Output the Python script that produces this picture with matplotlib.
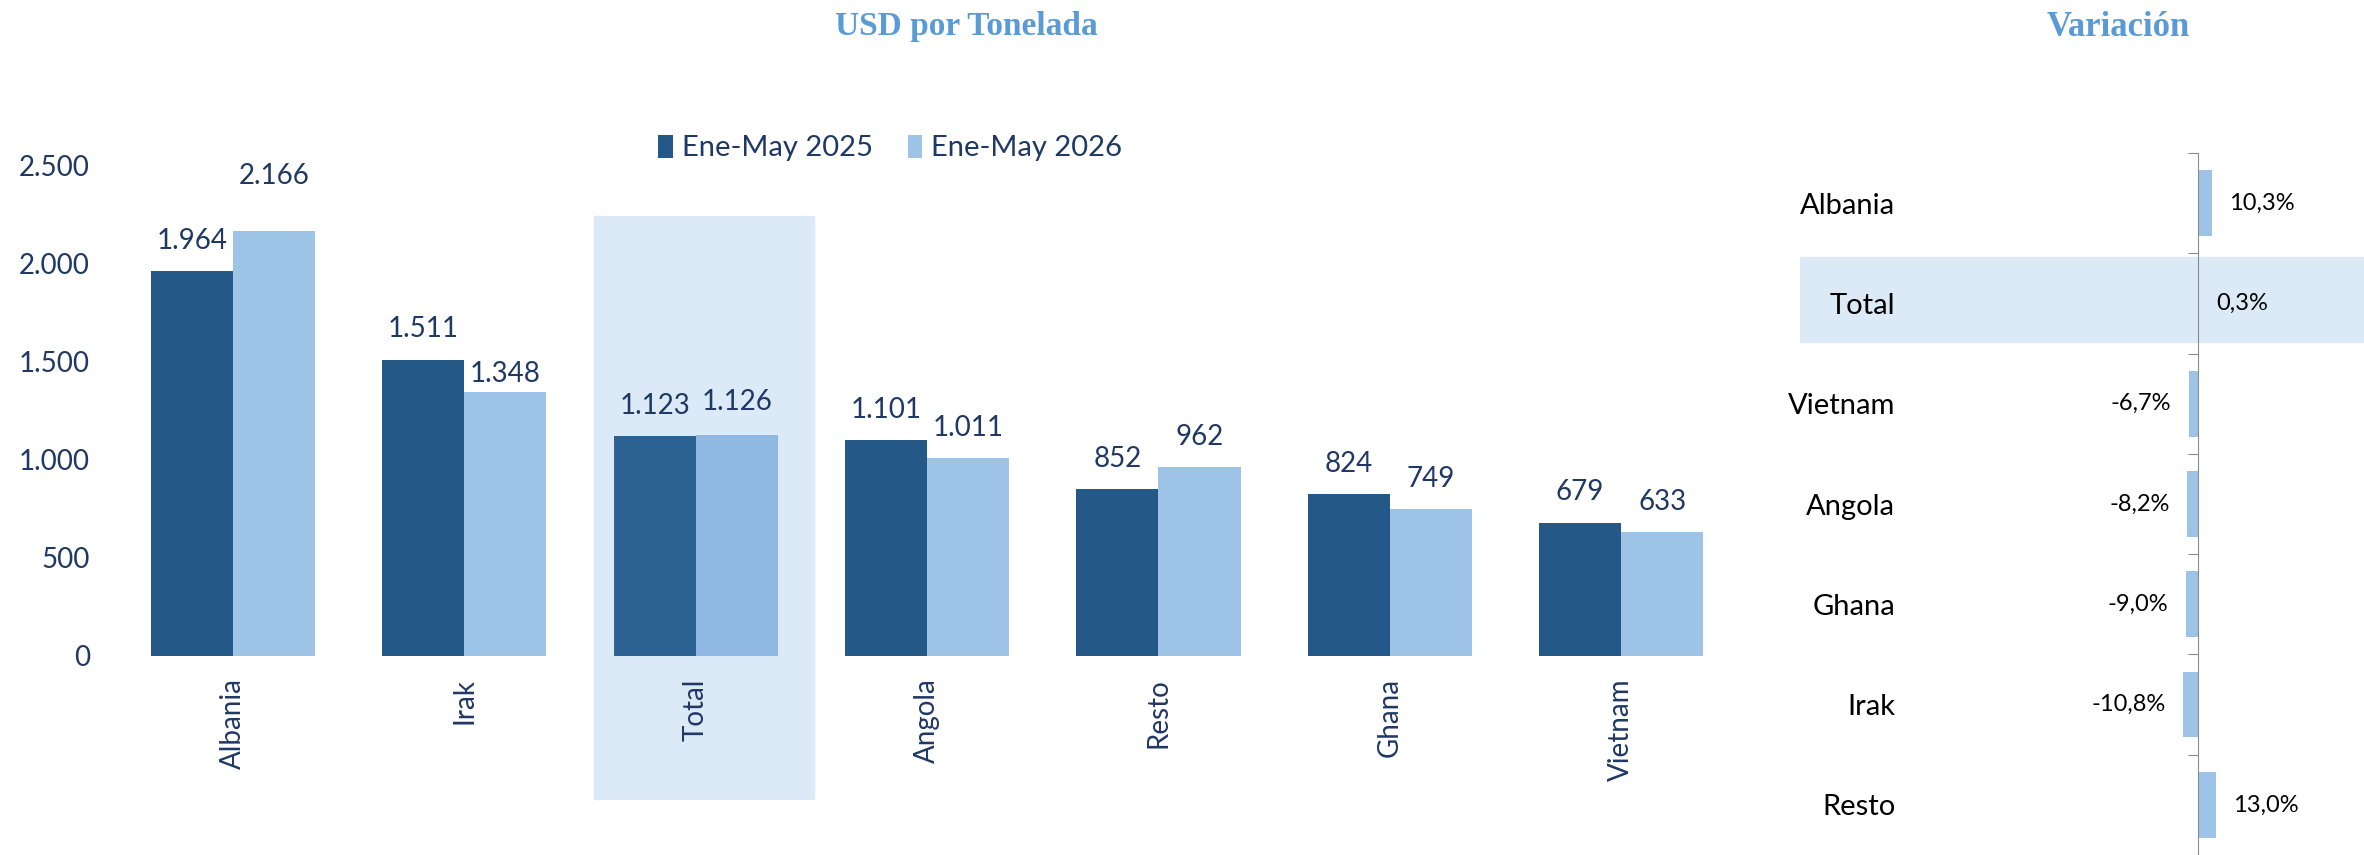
import numpy as np
import matplotlib.pyplot as plt
from matplotlib.patches import Rectangle

plt.rcParams['font.family'] = ['Lato', 'DejaVu Sans']

# data
paises = ['Albania', 'Irak', 'Total', 'Angola', 'Resto', 'Ghana', 'Vietnam']
ene_may_2025 = [1964, 1511, 1123, 1101, 852, 824, 679]
ene_may_2026 = [2166, 1348, 1126, 1011, 962, 749, 633]

var_paises = ['Albania', 'Total', 'Vietnam', 'Angola', 'Ghana', 'Irak', 'Resto']
variacion = [10.3, 0.3, -6.7, -8.2, -9.0, -10.8, 13.0]

navy = '#1F3864'
dark = '#245987'
light = '#9DC3E6'
dark_tot = '#2D6394'
light_tot = '#8FB9E3'
highlight = '#DCE9F6'

W, H = 2364, 855
fig = plt.figure(figsize=(W / 100, H / 100), dpi=100)


def px_axes(l, t, r, b):
    return fig.add_axes([l / W, 1 - b / H, (r - l) / W, (b - t) / H])


def miles(v):
    return f"{v:,}".replace(',', '.')


# ---- left chart: USD por tonelada ----
ax = px_axes(109, 107, 1746, 656)
x = np.arange(len(paises))
w = 0.355
c25 = [dark_tot if p == 'Total' else dark for p in paises]
c26 = [light_tot if p == 'Total' else light for p in paises]
ax.bar(x - w / 2, ene_may_2025, w, color=c25, label='Ene-May 2025', zorder=2)
ax.bar(x + w / 2, ene_may_2026, w, color=c26, label='Ene-May 2026', zorder=2)
ax.set_xlim(-0.536, 6.54)
ax.set_ylim(0, 2800)

# highlight column behind Total
it = paises.index('Total')
ax.add_patch(Rectangle((it - 0.44, -730), 0.95, 2975, color=highlight,
                       zorder=0, clip_on=False))

# value labels (px above bar top, a couple staggered like the original)
off25 = [30, 31, 30, 30, 30, 30, 31]
off26 = [55, 18, 33, 30, 30, 30, 30]
for xi, v, o in zip(x, ene_may_2025, off25):
    ax.annotate(miles(v), (xi - w / 2, v), xytext=(0, o * 0.72),
                textcoords='offset points', ha='center', va='center',
                fontsize=20, color=navy)
for xi, v, o in zip(x, ene_may_2026, off26):
    ax.annotate(miles(v), (xi + w / 2, v), xytext=(0, o * 0.72),
                textcoords='offset points', ha='center', va='center',
                fontsize=20, color=navy)

ax.set_yticks(range(0, 2501, 500))
ax.set_yticklabels([miles(t) for t in range(0, 2501, 500)])
ax.set_xticks(x)
ax.set_xticklabels(paises, rotation=90)
ax.tick_params(axis='y', length=0, pad=13.7, labelsize=20, labelcolor=navy)
ax.tick_params(axis='x', length=0, pad=16, labelsize=20, labelcolor=navy)
for s in ax.spines.values():
    s.set_visible(False)

ax.legend(loc='center', bbox_to_anchor=(890 / W, 1 - 148 / H),
          bbox_transform=fig.transFigure, ncol=2, frameon=False, fontsize=21,
          labelcolor=navy, handlelength=0.5, handleheight=0.85,
          handletextpad=0.3, columnspacing=1.2)

fig.text(966 / W, 1 - 27 / H, 'USD por Tonelada', ha='center', va='center',
         fontsize=24, fontweight='bold', family='Liberation Serif',
         color='#5B9BD5')

# ---- right chart: variación ----
ax2 = px_axes(1800, 153, 2364, 855)
y = np.arange(len(var_paises))
ax2.barh(y, variacion, height=0.655, color=light, zorder=2)
ax2.set_xlim(-(2198 - 1800) / 1.365, (2364 - 2198) / 1.365)
ax2.set_ylim((855 - 153) / 100.7 - 0.5, -0.5)

iv = var_paises.index('Total')
ax2.axhspan(iv - 0.467, iv + 0.387, color=highlight, zorder=0)

for yi, v in zip(y, variacion):
    lab = f"{v:.1f}%".replace('.', ',')
    if v >= 0:
        ax2.annotate(lab, (v, yi), xytext=(12.5, 0), textcoords='offset points',
                     ha='left', va='center', fontsize=17, color='black')
    else:
        ax2.annotate(lab, (v, yi), xytext=(-12.5, 0), textcoords='offset points',
                     ha='right', va='center', fontsize=17, color='black')

for side in ['top', 'right', 'bottom']:
    ax2.spines[side].set_visible(False)
ax2.spines['left'].set_position(('data', 0))
ax2.spines['left'].set_color('#8C8C8C')
ax2.spines['left'].set_zorder(3)
ax2.set_xticks([])
ax2.set_yticks(np.arange(len(var_paises) + 1) - 0.5)
ax2.set_yticklabels([])
ax2.set_yticks(y, minor=True)
ax2.set_yticklabels(var_paises, minor=True)
ax2.tick_params(axis='y', which='major', length=7.2, color='#8C8C8C')
ax2.tick_params(axis='y', which='minor', length=0, pad=218, labelsize=21,
                labelcolor='black')

fig.text(2118 / W, 1 - 27 / H, 'Variación', ha='center', va='center',
         fontsize=25, fontweight='bold', family='Liberation Serif',
         color='#5B9BD5')

fig.savefig('out.png', dpi=100)
